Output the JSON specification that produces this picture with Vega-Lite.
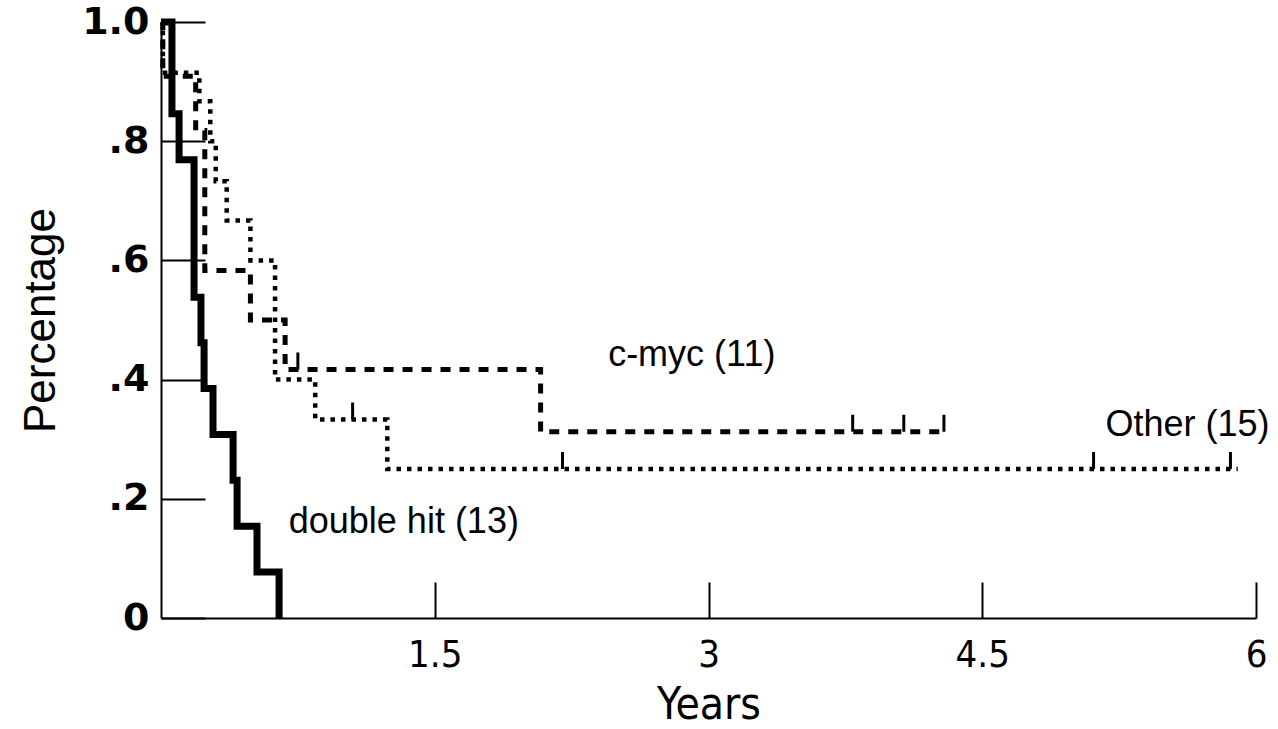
{
  "$schema": "https://vega.github.io/schema/vega-lite/v6.json",
  "width": 1095,
  "height": 596,
  "autosize": {"type": "none"},
  "padding": {"left": 161, "top": 22, "right": 22, "bottom": 111},
  "background": "white",
  "config": {
    "view": {"stroke": null},
    "axis": {"grid": false, "domainColor": "black", "tickColor": "black", "labelColor": "black", "titleColor": "black"}
  },
  "datasets": {
    "curves": [
      {"group": "double hit", "t": 0, "s": 1},
      {"group": "double hit", "t": 0.06, "s": 0.846},
      {"group": "double hit", "t": 0.099, "s": 0.769},
      {"group": "double hit", "t": 0.181, "s": 0.538},
      {"group": "double hit", "t": 0.219, "s": 0.462},
      {"group": "double hit", "t": 0.236, "s": 0.385},
      {"group": "double hit", "t": 0.285, "s": 0.308},
      {"group": "double hit", "t": 0.395, "s": 0.231},
      {"group": "double hit", "t": 0.417, "s": 0.154},
      {"group": "double hit", "t": 0.526, "s": 0.077},
      {"group": "double hit", "t": 0.647, "s": 0},
      {"group": "double hit", "t": 0.647, "s": 0},
      {"group": "c-myc", "t": 0, "s": 1},
      {"group": "c-myc", "t": 0.01, "s": 0.909},
      {"group": "c-myc", "t": 0.19, "s": 0.818},
      {"group": "c-myc", "t": 0.24, "s": 0.583},
      {"group": "c-myc", "t": 0.49, "s": 0.5},
      {"group": "c-myc", "t": 0.68, "s": 0.417},
      {"group": "c-myc", "t": 2.08, "s": 0.3125},
      {"group": "c-myc", "t": 4.3, "s": 0.3125},
      {"group": "Other", "t": 0, "s": 1},
      {"group": "Other", "t": 0.01, "s": 0.915},
      {"group": "Other", "t": 0.21, "s": 0.867},
      {"group": "Other", "t": 0.27, "s": 0.8},
      {"group": "Other", "t": 0.3, "s": 0.733},
      {"group": "Other", "t": 0.36, "s": 0.667},
      {"group": "Other", "t": 0.49, "s": 0.6},
      {"group": "Other", "t": 0.625, "s": 0.4},
      {"group": "Other", "t": 0.845, "s": 0.333},
      {"group": "Other", "t": 1.24, "s": 0.25},
      {"group": "Other", "t": 5.9, "s": 0.25}
    ],
    "censored": [
      {"group": "c-myc", "t": 0.75, "s": 0.417},
      {"group": "c-myc", "t": 3.79, "s": 0.3125},
      {"group": "c-myc", "t": 4.07, "s": 0.3125},
      {"group": "c-myc", "t": 4.29, "s": 0.3125},
      {"group": "Other", "t": 1.05, "s": 0.333},
      {"group": "Other", "t": 2.2, "s": 0.25},
      {"group": "Other", "t": 5.11, "s": 0.25},
      {"group": "Other", "t": 5.86, "s": 0.25}
    ],
    "notes": [
      {"label": "c-myc (11)", "t": 2.45, "s": 0.441},
      {"label": "Other (15)", "t": 5.175, "s": 0.324},
      {"label": "double hit (13)", "t": 0.7, "s": 0.161}
    ]
  },
  "encoding": {
    "x": {
      "field": "t",
      "type": "quantitative",
      "scale": {"domain": [0, 6], "nice": false, "zero": false},
      "axis": {
        "values": [1.5, 3, 4.5, 6],
        "labelExpr": "format(datum.value, '.1~f')",
        "tickSize": -36,
        "tickWidth": 2,
        "domainWidth": 2,
        "labelPadding": 54,
        "labelFlush": false,
        "labelFont": "DejaVu Sans Condensed, Liberation Sans",
        "labelFontSize": 38,
        "title": "Years",
        "titleFont": "DejaVu Sans Condensed, Liberation Sans",
        "titleFontSize": 44,
        "titleFontWeight": "normal",
        "titleBaseline": "top",
        "titleY": 65
      }
    },
    "y": {
      "field": "s",
      "type": "quantitative",
      "scale": {"domain": [0, 1], "nice": false},
      "axis": {
        "values": [0, 0.2, 0.4, 0.6, 0.8, 1],
        "tickSize": -44,
        "tickWidth": 2,
        "domainWidth": 2,
        "labelPadding": 56,
        "labelFlush": false,
        "labelFont": "DejaVu Sans",
        "labelFontWeight": "bold",
        "labelFontSize": 38,
        "labelExpr": "datum.value == 1 ? '1.0' : datum.value == 0 ? '0' : replace(format(datum.value, '.1f'), '0.', '.')",
        "title": "Percentage",
        "titleFont": "Liberation Sans",
        "titleFontSize": 44,
        "titleFontWeight": "normal",
        "titleAngle": -90,
        "titleAlign": "center",
        "titleBaseline": "middle",
        "titleX": -120,
        "titleY": 298
      }
    }
  },
  "layer": [
    {
      "data": {"name": "curves"},
      "transform": [{"filter": "datum.group == 'Other'"}],
      "mark": {"type": "line", "interpolate": "step-after", "color": "black", "strokeWidth": 4.5, "strokeDash": [4.5, 6]}
    },
    {
      "data": {"name": "curves"},
      "transform": [{"filter": "datum.group == 'c-myc'"}],
      "mark": {"type": "line", "interpolate": "step-after", "color": "black", "strokeWidth": 5, "strokeDash": [10, 9]}
    },
    {
      "data": {"name": "curves"},
      "transform": [{"filter": "datum.group == 'double hit'"}],
      "mark": {"type": "line", "interpolate": "step-after", "color": "black", "strokeWidth": 7}
    },
    {
      "data": {"name": "censored"},
      "mark": {"type": "tick", "orient": "vertical", "color": "black", "size": 17, "thickness": 3, "yOffset": -8.5, "opacity": 1}
    },
    {
      "data": {"name": "notes"},
      "mark": {"type": "text", "align": "left", "baseline": "middle", "font": "Liberation Sans", "fontSize": 36, "color": "black"},
      "encoding": {"text": {"field": "label"}}
    }
  ]
}
